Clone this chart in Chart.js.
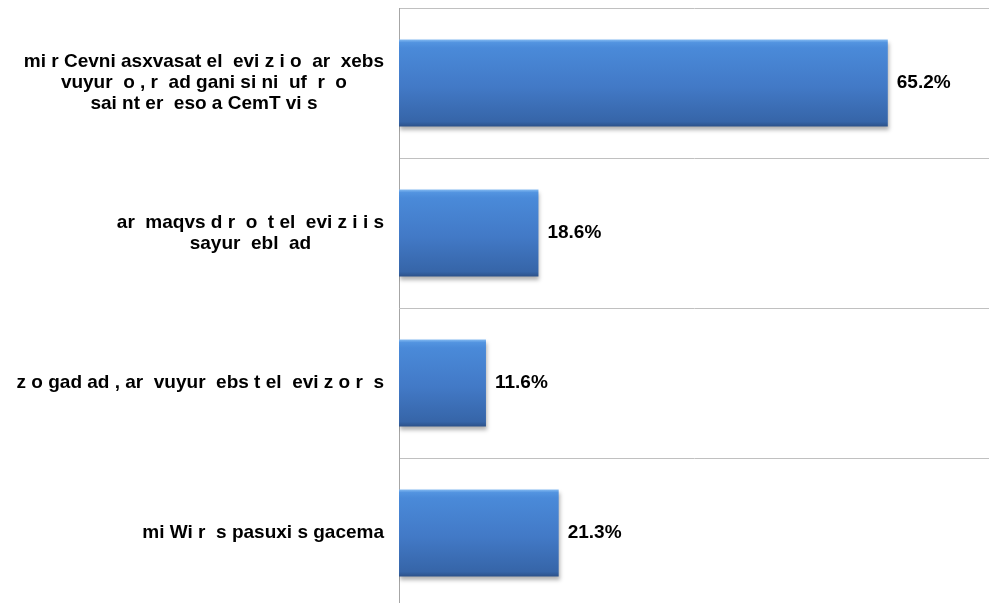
<!DOCTYPE html>
<html>
<head>
<meta charset="utf-8">
<script src="https://cdn.jsdelivr.net/npm/chart.js@4/dist/chart.umd.min.js"></script>
<style>
  html, body { margin: 0; padding: 0; background: #fff; overflow: hidden; }
  #wrap { position: relative; width: 989px; height: 608px; }
</style>
</head>
<body>
<div id="wrap"><canvas id="c"></canvas></div>
<script>
// ---- data ----
const categories = [
  ["mi r Cevni asxvasat el  evi z i o  ar  xebs", "vuyur  o , r  ad gani si ni  uf  r  o", "sai nt er  eso a CemT vi s"],
  ["ar  maqvs d r  o  t el  evi z i i s", "sayur  ebl  ad"],
  ["z o gad ad , ar  vuyur  ebs t el  evi z o r  s"],
  ["mi Wi r  s pasuxi s gacema"]
];
const values = [65.2, 18.6, 11.6, 21.3];
const axisMax = 78.7;

// ---- plugins ----
const shadowPlugin = {
  id: 'barShadow',
  beforeDatasetsDraw(chart) {
    const ctx = chart.ctx;
    ctx.save();
    ctx.shadowColor = 'rgba(0,0,0,0.3)';
    ctx.shadowBlur = 4;
    ctx.shadowOffsetX = 1;
    ctx.shadowOffsetY = 3;
  },
  afterDatasetsDraw(chart) {
    chart.ctx.restore();
  }
};

const labelPlugin = {
  id: 'labels',
  afterDraw(chart) {
    const ctx = chart.ctx;
    const y = chart.scales.y;
    const meta = chart.getDatasetMeta(0);
    ctx.save();
    ctx.fillStyle = '#000';
    ctx.font = 'bold 19px "Liberation Sans", Arial, sans-serif';
    ctx.textBaseline = 'middle';
    ctx.textAlign = 'center';
    const lh = 21;
    categories.forEach((lines, i) => {
      const cy = y.getPixelForValue(i);
      const maxW = Math.max(...lines.map(l => ctx.measureText(l).width));
      const cx = chart.chartArea.left - 15 - maxW / 2;
      const y0 = cy - (lines.length - 1) * lh / 2;
      lines.forEach((l, k) => ctx.fillText(l, cx, y0 + k * lh));
    });
    ctx.font = 'bold 19px "Liberation Sans", Arial, sans-serif';
    ctx.textAlign = 'left';
    meta.data.forEach((bar, i) => {
      ctx.fillText(values[i].toFixed(1) + '%', bar.x + 9, bar.y);
    });
    ctx.restore();
  }
};

function barGradient(context) {
  const chart = context.chart;
  const ys = chart.scales && chart.scales.y;
  if (!ys || context.type !== 'data') return '#4581cf';
  const cy = ys.getPixelForValue(context.dataIndex);
  if (!isFinite(cy)) return '#4581cf';
  const h = 44;
  const g = chart.ctx.createLinearGradient(0, cy - h, 0, cy + h);
  g.addColorStop(0, '#8cc0f4');
  g.addColorStop(0.04, '#5394e0');
  g.addColorStop(0.1, '#4a8ad9');
  g.addColorStop(0.55, '#4279c6');
  g.addColorStop(0.94, '#3665a8');
  g.addColorStop(1, '#2b4f86');
  return g;
}

new Chart(document.getElementById('c'), {
  type: 'bar',
  data: {
    labels: categories,
    datasets: [{
      data: values,
      backgroundColor: barGradient,
      borderWidth: 0,
      barPercentage: 0.58,
      categoryPercentage: 1.0
    }]
  },
  options: {
    indexAxis: 'y',
    responsive: true,
    maintainAspectRatio: false,
    animation: false,
    layout: { padding: { top: 8, right: 0, bottom: 0, left: 0 } },
    plugins: { legend: { display: false }, tooltip: { enabled: false } },
    scales: {
      x: {
        display: false,
        min: 0,
        max: axisMax
      },
      y: {
        afterFit(scale) { scale.width = 399; },
        ticks: { display: false },
        grid: { offset: true, color: '#c0c0c0', lineWidth: 1, drawTicks: false },
        border: { display: true, color: '#a6a6a6', width: 1 }
      }
    }
  },
  plugins: [shadowPlugin, labelPlugin]
});
</script>
</body>
</html>
